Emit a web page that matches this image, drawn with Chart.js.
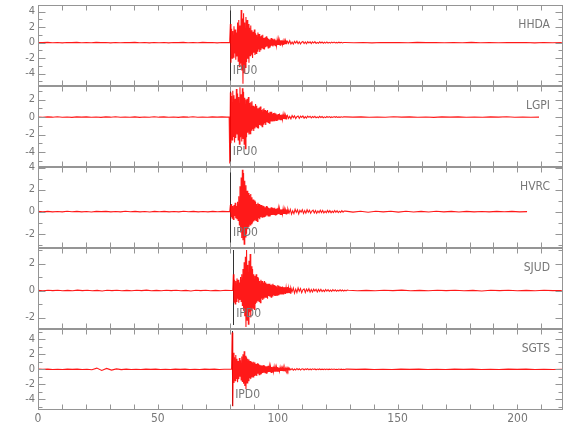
<!DOCTYPE html>
<html>
<head>
<meta charset="utf-8">
<script src="https://cdn.jsdelivr.net/npm/chart.js@4.4.1/dist/chart.umd.min.js"></script>
<style>
    html, body { margin: 0; padding: 0; background: #fff; }
    #wrap { position: relative; width: 580px; height: 440px; overflow: hidden; }
    #wrap canvas { position: absolute; left: 0; }
</style>
</head>
<body>
<div id="wrap"></div>
<script>
// Eje de tiempo (s)
const xMin = 0;
const xMax = 219;
const xTicks = [0, 50, 100, 150, 200];

// Estaciones, picks y escalas de cada panel
const stations = ['HHDA', 'LGPI', 'HVRC', 'SJUD', 'SGTS'];
const pickLabels = ['IPU0', 'IPU0', 'IPD0', 'IPD0', 'IPD0'];
const pickTimes = [80.0, 80.0, 80.1, 81.4, 81.0];
const yMins = [-5.6, -5.7, -3.3, -2.85, -5.4];
const yMaxs = [4.85, 3.55, 4.05, 3.15, 5.35];
const yTicks = [[-4, -2, 0, 2, 4], [-4, -2, 0, 2], [-2, 0, 2, 4], [-2, 0, 2], [-4, -2, 0, 2, 4]];

// Inicio de la onda y fin de cada traza (s)
const waveStarts = [79.75, 79.75, 80.0, 81.25, 80.75];
const traceEnds = [218.5, 209.0, 204.0, 218.5, 218.5];

// Muestreo: onda cada 0.25 s, coda cada 0.5 s; pre-evento y cola repartidos en su tramo
const waveStep = 0.25;
const codaStep = 0.5;

// HHDA
const hhdaPre = [0.02,-0.01,0.03,-0.02,0.01,-0.03,0.02,0.0,0.03,-0.02,0.01,-0.02,0.03,-0.01,0.02,-0.03,0.01,-0.02,0.02,0.0,0.03,-0.02,0.01,-0.03,0.02,-0.02,0.01,-0.03,0.02,-0.01,0.03,-0.02,0.01,-0.02,0.03,-0.01,0.02,-0.03,0.01,0.0];
const hhdaWave = [0,0.4,2.4,-2.6,1.8,-2.0,1.5,-1.9,2.1,-1.4,1.7,-2.2,1.3,-1.8,2.6,-2.4,2.9,-3.1,2.2,-2.7,4.2,-3.6,3.1,-5.3,3.8,-3.9,2.6,-3.2,3.3,-2.5,2.9,-2.1,2.4,-2.6,1.9,-1.7,2.2,-1.5,1.6,-2.0,1.4,-1.3,1.7,-1.6,1.2,-1.4,1.0,-1.1,1.3,-0.9,1.1,-1.2,0.8,-1.0,0.9,-0.7,1.0,-0.8,0.6,-0.9,0.7,-0.6,0.8,-0.5,0.6,-0.7,0.5,-0.6,0.4,-0.5,0.6,-0.4,0.5,-0.5,0.4,-0.3,0.5,-0.4,0.3,-0.4,0.35,-0.3,0.4,-0.3,0.25,-0.35,0.3,-0.2,0.3,-0.25,0.2,-0.3,0.2,-0.2,0.25,-0.15,0.2];
const hhdaCoda = [0.2,-0.1,0.24,-0.18,0.06,-0.2,0.15,-0.05,0.18,-0.14,0.1,-0.17,0.04,0.13,-0.12,0.08,-0.15,0.12,-0.04,0.1,-0.13,0.09,-0.06,0.11,-0.1,0.03,-0.09,0.1,-0.05,0.08,-0.09,0.04,-0.07,0.08,-0.06,0.03,-0.07,0.06,-0.04,0.06,-0.05,0.02,-0.05,0.05,-0.03,0.04,-0.04,0.02];
const hhdaTail = [0.02,-0.02,0.01,-0.03,0.02,-0.01,0.02,-0.02,0.03,-0.01,0.02,-0.02,0.01,-0.02,0.03,-0.02,0.01,-0.02,0.02,-0.01,0.02,-0.03,0.01,-0.02,0.01];

// LGPI
const lgpiPre = [0.01,-0.02,0.02,-0.01,0.03,-0.02,0.01,-0.03,0.02,0.0,0.02,-0.02,0.01,-0.03,0.02,-0.01,0.03,-0.02,0.01,-0.02,0.02,-0.03,0.01,-0.02,0.03,-0.01,0.02,-0.02,0.01,-0.03,0.02,-0.01,0.03,-0.02,0.01,-0.02,0.02,-0.01,0.02,0.0];
const lgpiWave = [0,-5.3,2.8,-3.0,2.4,-2.6,3.0,-2.2,2.5,-2.9,2.1,-2.4,3.2,-2.0,2.7,-2.6,2.3,-3.1,3.4,-2.3,2.6,-2.8,3.3,-2.5,2.9,-3.1,2.2,-3.6,2.0,-2.3,2.1,-1.8,2.3,-2.0,1.6,-1.9,1.7,-1.5,1.8,-1.4,1.3,-1.6,1.2,-1.3,1.5,-1.1,1.3,-1.2,1.0,-1.3,1.1,-0.9,1.2,-1.0,0.8,-1.1,0.9,-0.8,1.0,-0.7,0.8,-0.9,0.7,-0.6,0.8,-0.6,0.5,-0.7,0.6,-0.5,0.6,-0.5,0.4,-0.5,0.45,-0.4,0.5,-0.35,0.4,-0.45,0.3,-0.4,0.35,-0.3,0.4,-0.3,0.25,-0.3,0.3,-0.25,0.3,-0.2,0.25,-0.25,0.2,-0.2,0.15];
const lgpiCoda = [0.22,-0.15,0.08,-0.2,0.18,-0.06,0.14,-0.17,0.05,0.12,-0.15,0.1,-0.04,0.13,-0.12,0.06,-0.11,0.1,-0.03,0.09,-0.1,0.07,-0.05,0.09,-0.08,0.03,-0.07,0.08,-0.05,0.06,-0.07,0.03,-0.06,0.06,-0.04,0.05,-0.05,0.02,-0.04,0.05,-0.03,0.04,-0.04,0.02,-0.03,0.03,-0.02,0.02];
const lgpiTail = [0.02,-0.01,0.02,-0.02,0.01,-0.02,0.03,-0.01,0.02,-0.02,0.01,-0.03,0.02,-0.01,0.02,-0.02,0.01,-0.02,0.02,-0.01,0.03,-0.02,0.01,-0.02,0.0];

// HVRC
const hvrcPre = [0.02,-0.01,0.02,-0.02,0.01,-0.02,0.03,-0.01,0.02,-0.02,0.01,-0.03,0.02,0.0,0.02,-0.02,0.01,-0.02,0.03,-0.01,0.02,-0.02,0.01,-0.03,0.02,-0.01,0.02,-0.02,0.01,-0.02,0.03,-0.01,0.02,-0.02,0.01,-0.02,0.02,-0.01,0.02,0.0];
const hvrcWave = [0,0.6,-0.5,0.7,-0.6,0.5,-0.7,0.6,-0.4,0.8,-0.6,0.5,-0.7,0.9,-0.8,1.4,-1.2,2.3,-1.9,3.1,-2.4,3.8,-2.6,3.5,-2.95,2.8,-2.3,2.4,-2.0,1.9,-1.6,1.7,-1.4,1.5,-1.2,1.6,-1.1,1.3,-1.0,1.1,-0.9,1.0,-0.8,0.9,-0.8,0.7,-0.9,0.8,-0.6,0.7,-0.7,0.6,-0.5,0.6,-0.5,0.55,-0.45,0.5,-0.5,0.4,-0.45,0.5,-0.35,0.45,-0.4,0.35,-0.4,0.3,-0.35,0.4,-0.3,0.35,-0.3,0.3,-0.25,0.35,-0.3,0.25,-0.3,0.3,-0.25,0.3,-0.2,0.25,-0.25,0.2,-0.25,0.2,-0.2,0.25,-0.2,0.2,-0.2,0.15,-0.2,0.2,-0.15];
const hvrcCoda = [0.24,-0.12,0.2,-0.22,0.08,-0.18,0.21,-0.07,0.16,-0.2,0.12,-0.05,0.18,-0.16,0.09,-0.14,0.17,-0.06,0.12,-0.15,0.05,0.13,-0.12,0.1,-0.14,0.06,-0.1,0.13,-0.08,0.11,-0.12,0.04,-0.1,0.11,-0.07,0.09,-0.1,0.05,-0.08,0.1,-0.06,0.08,-0.09,0.04,-0.07,0.08,-0.05,0.06];
const hvrcTail = [0.05,-0.04,0.03,-0.05,0.04,-0.02,0.04,-0.04,0.03,-0.03,0.02,-0.03,0.03,-0.02,0.02,-0.03,0.02,-0.02,0.01,-0.02,0.02,-0.01,0.02,-0.02,0.0];

// SJUD
const sjudPre = [0.01,-0.02,0.02,-0.01,0.02,-0.02,0.01,-0.02,0.03,-0.01,0.02,-0.02,0.01,-0.03,0.02,-0.01,0.02,-0.02,0.01,-0.02,0.02,-0.01,0.03,-0.02,0.01,-0.02,0.02,-0.01,0.02,-0.02,0.01,-0.03,0.02,-0.01,0.02,-0.02,0.01,-0.02,0.02,0.0];
const sjudWave = [0,1.2,-0.9,0.8,-1.0,0.7,-0.8,0.9,-0.6,0.8,-0.9,0.6,-0.7,1.0,-0.8,1.2,-1.1,1.6,-1.5,2.1,-1.9,2.5,-2.7,3.0,-2.2,1.9,-2.5,2.2,-1.6,2.7,-2.0,1.8,-1.5,1.6,-1.3,1.2,-1.4,1.1,-1.0,1.2,-0.9,1.0,-0.8,0.9,-0.8,0.7,-0.9,0.8,-0.6,0.7,-0.7,0.6,-0.6,0.7,-0.5,0.6,-0.5,0.5,-0.6,0.5,-0.4,0.5,-0.45,0.4,-0.5,0.45,-0.4,0.5,-0.35,0.4,-0.4,0.35,-0.4,0.3,-0.35,0.4,-0.3,0.35,-0.3,0.3,-0.3,0.25,-0.3,0.3,-0.25,0.25,-0.2,0.25,-0.25,0.2,-0.2,0.25,-0.2,0.2,-0.15,0.2,-0.2];
const sjudCoda = [0.2,-0.08,0.18,-0.2,0.1,-0.15,0.19,-0.06,0.14,-0.16,0.05,0.12,-0.15,0.11,-0.05,0.13,-0.12,0.07,-0.11,0.1,-0.04,0.09,-0.1,0.08,-0.06,0.09,-0.08,0.03,-0.07,0.08,-0.05,0.06,-0.07,0.03,-0.06,0.06,-0.04,0.05,-0.05,0.02,-0.04,0.05,-0.03,0.04,-0.04,0.02,-0.03,0.03];
const sjudTail = [0.02,-0.02,0.01,-0.02,0.02,-0.01,0.03,-0.02,0.01,-0.02,0.02,-0.01,0.02,-0.02,0.01,-0.03,0.02,-0.01,0.02,-0.02,0.01,-0.02,0.02,-0.01,0.0];

// SGTS (con un pequeño evento hacia los 24 s)
const sgtsPre = [0.02,-0.01,0.02,-0.02,0.01,-0.02,0.03,-0.01,0.02,-0.02,0.01,-0.05,0.16,-0.15,0.12,-0.1,0.06,-0.04,0.02,-0.02,0.01,-0.02,0.03,-0.01,0.02,-0.02,0.01,-0.03,0.02,-0.01,0.02,-0.02,0.01,-0.02,0.03,-0.01,0.02,-0.02,0.01,0.0];
const sgtsWave = [0,4.9,-4.9,2.2,-1.8,1.6,-1.5,1.9,-1.2,1.4,-1.7,1.1,-1.3,1.5,-1.0,1.2,-1.4,1.7,-1.6,2.0,-1.9,2.4,-2.2,1.8,-2.6,1.6,-1.8,1.4,-1.5,1.3,-1.2,1.1,-1.3,1.0,-1.1,0.9,-1.0,1.0,-0.8,0.9,-0.8,0.7,-0.9,0.8,-0.6,0.7,-0.7,0.6,-0.6,0.55,-0.6,0.5,-0.5,0.55,-0.45,0.5,-0.45,0.4,-0.5,0.4,-0.4,0.45,-0.35,0.4,-0.35,0.35,-0.4,0.3,-0.35,0.35,-0.3,0.3,-0.3,0.25,-0.3,0.3,-0.25,0.3,-0.25,0.2,-0.25,0.25,-0.2,0.2,-0.2,0.2,-0.2,0.15,-0.2,0.2,-0.15,0.15,-0.15,0.15,-0.15,0.15,-0.1];
const sgtsCoda = [0.12,-0.06,0.1,-0.12,0.04,-0.09,0.11,-0.05,0.08,-0.1,0.03,0.07,-0.09,0.06,-0.03,0.08,-0.07,0.04,-0.06,0.06,-0.02,0.05,-0.06,0.04,-0.03,0.05,-0.04,0.02,-0.04,0.04,-0.03,0.03,-0.04,0.02,-0.03,0.03,-0.02,0.03,-0.03,0.01,-0.02,0.03,-0.02,0.02,-0.02,0.01,-0.02,0.02];
const sgtsTail = [0.02,-0.01,0.02,-0.02,0.01,-0.02,0.02,-0.01,0.03,-0.02,0.01,-0.02,0.02,-0.01,0.02,-0.02,0.01,-0.03,0.02,-0.01,0.02,-0.02,0.01,-0.02,0.0];

const traces = [
    [hhdaPre, hhdaWave, hhdaCoda, hhdaTail],
    [lgpiPre, lgpiWave, lgpiCoda, lgpiTail],
    [hvrcPre, hvrcWave, hvrcCoda, hvrcTail],
    [sjudPre, sjudWave, sjudCoda, sjudTail],
    [sgtsPre, sgtsWave, sgtsCoda, sgtsTail]
];

// Geometría de los paneles
const panelTop0 = 5;
const panelH = 81;
const pad = 8;
const bottomExtra = 28;
const textColor = '#777';
const frameColor = '#959595';
const fontFamily = "'Liberation Sans Narrow', 'DejaVu Sans Condensed', 'Roboto Condensed', sans-serif";

// Construir puntos {x, y} de cada traza
function buildTrace(parts, start, end) {
    const [pre, wave, coda, tail] = parts;
    const pts = [];
    const preStep = (start - 1) / (pre.length - 1);
    pre.forEach((v, i) => pts.push({ x: i * preStep, y: v }));
    wave.forEach((v, i) => pts.push({ x: start + i * waveStep, y: v }));
    const codaStart = start + wave.length * waveStep;
    coda.forEach((v, i) => pts.push({ x: codaStart + i * codaStep, y: v }));
    const tailStart = codaStart + coda.length * codaStep;
    const tailStep = (end - tailStart) / (tail.length - 1);
    tail.forEach((v, i) => pts.push({ x: tailStart + i * tailStep, y: v }));
    return pts;
}

// Plugin: marco, ticks hacia dentro, etiquetas, pick y nombre de estación
const seisFrame = {
    id: 'seisFrame',
    beforeDatasetsDraw(chart, args, opts) {
        const { ctx, chartArea: a, scales: { x } } = chart;
        const px = Math.round(x.getPixelForValue(pickTimes[opts.index])) + 0.5;
        ctx.save();
        ctx.strokeStyle = '#333';
        ctx.lineWidth = 1;
        ctx.beginPath();
        ctx.moveTo(px, a.top + 2);
        ctx.lineTo(px, a.bottom - 4);
        ctx.stroke();
        ctx.restore();
    },
    afterDraw(chart, args, opts) {
        const { ctx, chartArea: a, scales: { x, y } } = chart;
        const i = opts.index;
        const L = Math.round(a.left) + 0.5;
        const R = Math.round(a.right) - 0.5;
        const T = Math.round(a.top) + 0.5;
        const B = Math.round(a.bottom) - 0.5;
        ctx.save();
        ctx.strokeStyle = frameColor;
        ctx.lineWidth = 1;
        ctx.strokeRect(L, T, R - L, B - T);

        ctx.beginPath();
        // ticks de tiempo cada 10 s, arriba y abajo
        for (let t = xMin; t <= xMax; t += 10) {
            const px = Math.round(x.getPixelForValue(t)) + 0.5;
            ctx.moveTo(px, T); ctx.lineTo(px, T + 5);
            ctx.moveTo(px, B); ctx.lineTo(px, B - 5);
        }
        // ticks de amplitud cada 1, los pares más largos
        for (let v = Math.ceil(yMins[i]); v <= Math.floor(yMaxs[i]); v++) {
            const py = Math.round(y.getPixelForValue(v)) + 0.5;
            const len = yTicks[i].includes(v) ? 7 : 4;
            ctx.moveTo(L, py); ctx.lineTo(L + len, py);
            ctx.moveTo(R, py); ctx.lineTo(R - len, py);
        }
        ctx.stroke();

        ctx.fillStyle = textColor;
        ctx.font = '11px ' + fontFamily;
        ctx.textAlign = 'right';
        ctx.textBaseline = 'middle';
        yTicks[i].forEach(v => {
            ctx.fillText(String(v), a.left - 3, y.getPixelForValue(v));
        });

        if (i === stations.length - 1) {
            ctx.textAlign = 'center';
            ctx.textBaseline = 'top';
            ctx.font = '12px ' + fontFamily;
            xTicks.forEach(t => {
                ctx.fillText(String(t), x.getPixelForValue(t), a.bottom + 3);
            });
        }

        ctx.font = '12px ' + fontFamily;
        ctx.textBaseline = 'middle';
        ctx.textAlign = 'right';
        ctx.fillText(stations[i], a.right - 13, a.top + 20);
        ctx.textAlign = 'left';
        ctx.fillText(pickLabels[i], x.getPixelForValue(pickTimes[i]) + 3, a.bottom - 15);
        ctx.restore();
    }
};

const wrap = document.getElementById('wrap');
stations.forEach((name, i) => {
    const isLast = i === stations.length - 1;
    const canvas = document.createElement('canvas');
    const h = panelH + 2 * pad + (isLast ? bottomExtra : 0);
    canvas.width = 580;
    canvas.height = h;
    canvas.style.top = (panelTop0 + i * panelH - pad) + 'px';
    canvas.style.width = '580px';
    canvas.style.height = h + 'px';
    wrap.appendChild(canvas);

    new Chart(canvas, {
        type: 'line',
        data: {
            datasets: [{
                label: name,
                data: buildTrace(traces[i], waveStarts[i], traceEnds[i]),
                borderColor: 'rgba(255, 0, 0, 0.9)',
                borderWidth: 1.1,
                pointRadius: 0,
                tension: 0,
                fill: false
            }]
        },
        options: {
            responsive: false,
            animation: false,
            events: [],
            layout: { padding: { left: 38, right: 17, top: pad, bottom: pad + (isLast ? bottomExtra : 0) } },
            scales: {
                x: { type: 'linear', min: xMin, max: xMax, display: false },
                y: { type: 'linear', min: yMins[i], max: yMaxs[i], display: false }
            },
            plugins: {
                legend: { display: false },
                tooltip: { enabled: false },
                seisFrame: { index: i }
            }
        },
        plugins: [seisFrame]
    });
});
</script>
</body>
</html>
